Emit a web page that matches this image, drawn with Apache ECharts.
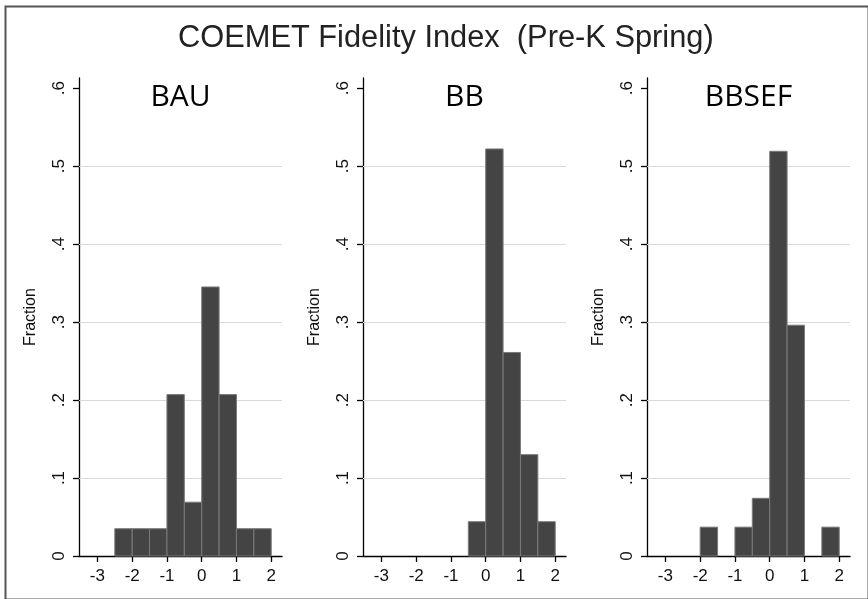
<!DOCTYPE html>
<html>
<head>
<meta charset="utf-8">
<script src="https://cdn.jsdelivr.net/npm/echarts@6/dist/echarts.min.js"></script>
<style>
html,body{margin:0;padding:0;background:#fff;}
#main{width:868px;height:599px;}
</style>
</head>
<body>
<div id="main"></div>
<script>
// ---- data ----
const chartTitle = 'COEMET Fidelity Index  (Pre-K Spring)';
const panelNames = ['BAU', 'BB', 'BBSEF'];
const binStarts = [-2.5, -2, -1.5, -1, -0.5, 0, 0.5, 1, 1.5];
const binWidth = 0.5;
const bauValues   = [0.035, 0.035, 0.035, 0.207, 0.069, 0.345, 0.207, 0.035, 0.035];
const bbValues    = [0, 0, 0, 0, 0.044, 0.522, 0.261, 0.130, 0.044];
const bbsefValues = [0, 0.037, 0, 0.037, 0.074, 0.519, 0.296, 0, 0.037];
const xTicks = [-3, -2, -1, 0, 1, 2];
const yTicks = [0, 0.1, 0.2, 0.3, 0.4, 0.5, 0.6];
const yName = 'Fraction';

const panelValues = [bauValues, bbValues, bbsefValues];

// ---- layout ----
const gridLefts = [79, 363, 647];
const gridWidth = 203;
const gridTop = 78;
const gridHeight = 478;

const chart = echarts.init(document.getElementById('main'), null, {renderer: 'canvas'});

const fontFam = 'Liberation Sans, Arial, Helvetica, sans-serif';

const grids = [], xAxes = [], yAxes = [], series = [], graphics = [];

panelNames.forEach((name, i) => {
  grids.push({left: gridLefts[i], top: gridTop, width: gridWidth, height: gridHeight, containLabel: false});
  xAxes.push({
    type: 'value', gridIndex: i, min: -3.53, max: 2.31,
    axisLine: {show: true, onZero: false, lineStyle: {color: '#000', width: 1.3}},
    axisTick: {show: true, length: 6, customValues: xTicks, lineStyle: {color: '#000', width: 1.3}},
    axisLabel: {show: true, customValues: xTicks, margin: 12, color: '#111', fontSize: 17, fontFamily: fontFam,
      formatter: v => String(v)},
    splitLine: {show: false}
  });
  yAxes.push({
    type: 'value', gridIndex: i, min: 0, max: 0.613,
    name: yName, nameLocation: 'middle', nameGap: 40, nameRotate: 90,
    nameTextStyle: {color: '#111', fontSize: 16, fontFamily: fontFam},
    axisLine: {show: true, onZero: false, lineStyle: {color: '#000', width: 1.3}},
    axisTick: {show: true, length: 6, customValues: yTicks, lineStyle: {color: '#000', width: 1.3}},
    axisLabel: {show: true, customValues: yTicks, rotate: 90, margin: 11, color: '#111', fontSize: 17, fontFamily: fontFam,
      formatter: v => v === 0 ? '0' : v.toFixed(1).replace(/^0\./, '.')},
    splitLine: {show: false}
  });
  const vals = panelValues[i];
  const data = [];
  binStarts.forEach((b, k) => { if (vals[k] > 0) data.push([b, b + binWidth, vals[k]]); });
  series.push({
    type: 'custom', xAxisIndex: i, yAxisIndex: i, z: 3,
    data: data,
    renderItem: function (params, api) {
      const p0 = api.coord([api.value(0), api.value(2)]);
      const p1 = api.coord([api.value(1), 0]);
      return {
        type: 'rect',
        shape: {x: p0[0], y: p0[1], width: p1[0] - p0[0], height: p1[1] - p0[1]},
        style: {fill: '#444444', stroke: '#7a7a7a', lineWidth: 1}
      };
    },
    silent: true
  });
  series.push({
    type: 'line', xAxisIndex: i, yAxisIndex: i, z: 1, data: [], silent: true,
    markLine: {
      silent: true, symbol: 'none', z: 1,
      label: {show: false},
      lineStyle: {color: '#d9d9d9', type: 'solid', width: 1},
      data: yTicks.filter(v => v > 0 && v < 0.6).map(v => ({yAxis: v}))
    }
  });
  graphics.push({
    type: 'text', x: gridLefts[i] + gridWidth / 2, y: 82,
    style: {text: name, fontSize: 30, fontFamily: 'Open Sans, Lato, sans-serif', fill: '#000', align: 'center', textAlign: 'center', verticalAlign: 'top'}
  });
});

graphics.push({
  type: 'rect', left: 3, top: 4, z: 0,
  shape: {x: 0, y: 0, width: 863, height: 593},
  style: {fill: 'none', stroke: '#555', lineWidth: 2}
});

chart.setOption({
  backgroundColor: '#fff',
  animation: false,
  title: {
    text: chartTitle, left: 173, top: 18,
    textStyle: {fontSize: 30.8, fontWeight: 'normal', color: '#222', fontFamily: fontFam}
  },
  grid: grids, xAxis: xAxes, yAxis: yAxes, series: series, graphic: graphics
});
</script>
</body>
</html>
